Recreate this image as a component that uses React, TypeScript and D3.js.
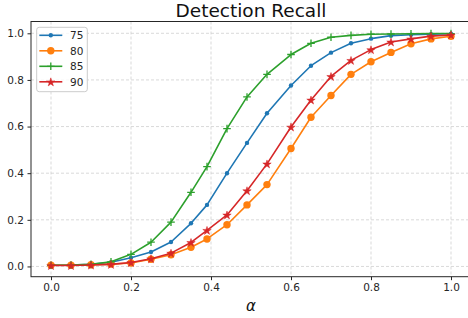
import React, { useEffect, useRef } from "react";
import * as d3 from "d3";

// alpha values (the middle ones sit slightly left of the grid in the original)
const alphas = [0, 0.05, 0.1, 0.15, 0.2, 0.25, 0.3, 0.35, 0.39, 0.44, 0.49, 0.54, 0.6, 0.65, 0.7, 0.75, 0.8, 0.85, 0.9, 0.95, 1.0];

const recall75 = [0.005, 0.006, 0.009, 0.018, 0.037, 0.062, 0.105, 0.185, 0.264, 0.4, 0.53, 0.657, 0.776, 0.861, 0.917, 0.957, 0.977, 0.99, 0.994, 0.996, 0.998];
const recall80 = [0.005, 0.005, 0.007, 0.01, 0.015, 0.031, 0.05, 0.082, 0.118, 0.179, 0.264, 0.351, 0.506, 0.64, 0.733, 0.824, 0.878, 0.918, 0.955, 0.976, 0.987];
const recall85 = [0.005, 0.006, 0.009, 0.02, 0.052, 0.104, 0.19, 0.318, 0.428, 0.591, 0.727, 0.824, 0.909, 0.957, 0.983, 0.991, 0.996, 0.997, 0.998, 0.999, 0.999];
const recall90 = [0.004, 0.004, 0.006, 0.009, 0.017, 0.033, 0.057, 0.103, 0.155, 0.221, 0.325, 0.44, 0.598, 0.714, 0.815, 0.884, 0.93, 0.963, 0.976, 0.988, 0.993];

const seriesNames = ["75", "80", "85", "90"];
const xTicks = [0, 0.2, 0.4, 0.6, 0.8, 1.0];
const yTicks = [0, 0.2, 0.4, 0.6, 0.8, 1.0];

const FONT = "DejaVu Sans, Verdana, sans-serif";

function App() {
  const ref = useRef<SVGSVGElement>(null);

  useEffect(() => {
    const svg = d3.select(ref.current);
    svg.selectAll("*").remove();

    const margin = { left: 31, top: 21.5, right: 471, bottom: 276.7 };

    const x = d3.scaleLinear().domain([-0.05, 1.05]).range([margin.left, margin.right]);
    const y = d3.scaleLinear().domain([-0.044, 1.0506]).range([margin.bottom, margin.top]);

    const series = [
      { name: seriesNames[0], values: recall75, color: "#1f77b4", marker: "dot" },
      { name: seriesNames[1], values: recall80, color: "#ff7f0e", marker: "circle" },
      { name: seriesNames[2], values: recall85, color: "#2ca02c", marker: "plus" },
      { name: seriesNames[3], values: recall90, color: "#d62728", marker: "star" },
    ];

    // grid
    const grid = svg.append("g");
    xTicks.forEach((t) => {
      grid.append("line")
        .attr("x1", x(t)).attr("x2", x(t))
        .attr("y1", margin.top).attr("y2", margin.bottom)
        .attr("stroke", "#cfcfcf").attr("stroke-width", 0.8)
        .attr("stroke-dasharray", "3,2");
    });
    yTicks.forEach((t) => {
      grid.append("line")
        .attr("x1", margin.left).attr("x2", margin.right)
        .attr("y1", y(t)).attr("y2", y(t))
        .attr("stroke", "#cfcfcf").attr("stroke-width", 0.8)
        .attr("stroke-dasharray", "3,2");
    });

    const line = d3.line<number>()
      .x((d, i) => x(alphas[i]))
      .y((d) => y(d));

    const drawMarker = (g: any, kind: string, color: string, cx: number, cy: number) => {
      if (kind === "dot") {
        g.append("circle").attr("cx", cx).attr("cy", cy).attr("r", 2.2).attr("fill", color);
      } else if (kind === "circle") {
        g.append("circle").attr("cx", cx).attr("cy", cy).attr("r", 3.7).attr("fill", color);
      } else if (kind === "plus") {
        g.append("path")
          .attr("d", `M${cx - 3.8},${cy}H${cx + 3.8}M${cx},${cy - 3.8}V${cy + 3.8}`)
          .attr("stroke", color).attr("stroke-width", 1.3).attr("fill", "none");
      } else {
        g.append("path")
          .attr("d", d3.symbol().type(d3.symbolStar).size(22)())
          .attr("transform", `translate(${cx},${cy + 0.5})`)
          .attr("fill", color).attr("stroke", color).attr("stroke-width", 0.5);
      }
    };

    series.forEach((s) => {
      const g = svg.append("g");
      g.append("path")
        .datum(s.values)
        .attr("d", line)
        .attr("fill", "none")
        .attr("stroke", s.color)
        .attr("stroke-width", 1.6)
        .attr("stroke-linejoin", "round");
      s.values.forEach((v, i) => drawMarker(g, s.marker, s.color, x(alphas[i]), y(v)));
    });

    // spines
    svg.append("rect")
      .attr("x", margin.left).attr("y", margin.top)
      .attr("width", margin.right - margin.left).attr("height", margin.bottom - margin.top)
      .attr("fill", "none").attr("stroke", "#262626").attr("stroke-width", 1);

    const xAxis = svg.append("g")
      .attr("transform", `translate(0,${margin.bottom})`)
      .call(d3.axisBottom(x).tickValues(xTicks).tickFormat(d3.format(".1f")).tickSize(3.5).tickPadding(3.5));
    const yAxis = svg.append("g")
      .attr("transform", `translate(${margin.left},0)`)
      .call(d3.axisLeft(y).tickValues(yTicks).tickFormat(d3.format(".1f")).tickSize(3.5).tickPadding(3.5));
    [xAxis, yAxis].forEach((a) => {
      a.select(".domain").remove();
      a.selectAll("line").attr("stroke", "#262626");
      a.selectAll("text").attr("font-family", FONT).attr("font-size", 10.5).attr("fill", "#262626");
    });

    // title and x label
    svg.append("text")
      .attr("x", (margin.left + margin.right) / 2).attr("y", 16.5)
      .attr("text-anchor", "middle")
      .attr("font-family", FONT).attr("font-size", 18.5).attr("fill", "#111")
      .text("Detection Recall");
    svg.append("text")
      .attr("x", (margin.left + margin.right) / 2).attr("y", 310.5)
      .attr("text-anchor", "middle")
      .attr("font-family", FONT).attr("font-size", 15).attr("font-style", "italic").attr("fill", "#111")
      .text("α");

    // legend
    const legend = svg.append("g");
    legend.append("rect")
      .attr("x", 36.7).attr("y", 27.3).attr("width", 50.6).attr("height", 64.4)
      .attr("rx", 2.5)
      .attr("fill", "white").attr("fill-opacity", 0.8)
      .attr("stroke", "#cccccc").attr("stroke-width", 1);
    series.forEach((s, i) => {
      const ly = 35.3 + i * 15.5;
      const row = legend.append("g");
      row.append("line")
        .attr("x1", 39.3).attr("x2", 62.3).attr("y1", ly).attr("y2", ly)
        .attr("stroke", s.color).attr("stroke-width", 1.6);
      drawMarker(row, s.marker, s.color, 50.8, ly);
      row.append("text")
        .attr("x", 70).attr("y", ly).attr("dy", "0.36em")
        .attr("font-family", FONT).attr("font-size", 10.5).attr("fill", "#262626")
        .text(s.name);
    });
  }, []);

  return (
    <div style={{ position: "fixed", left: 0, top: 0 }}>
      <svg ref={ref} width={468} height={318} style={{ display: "block", background: "white" }} />
    </div>
  );
}

export default App;
